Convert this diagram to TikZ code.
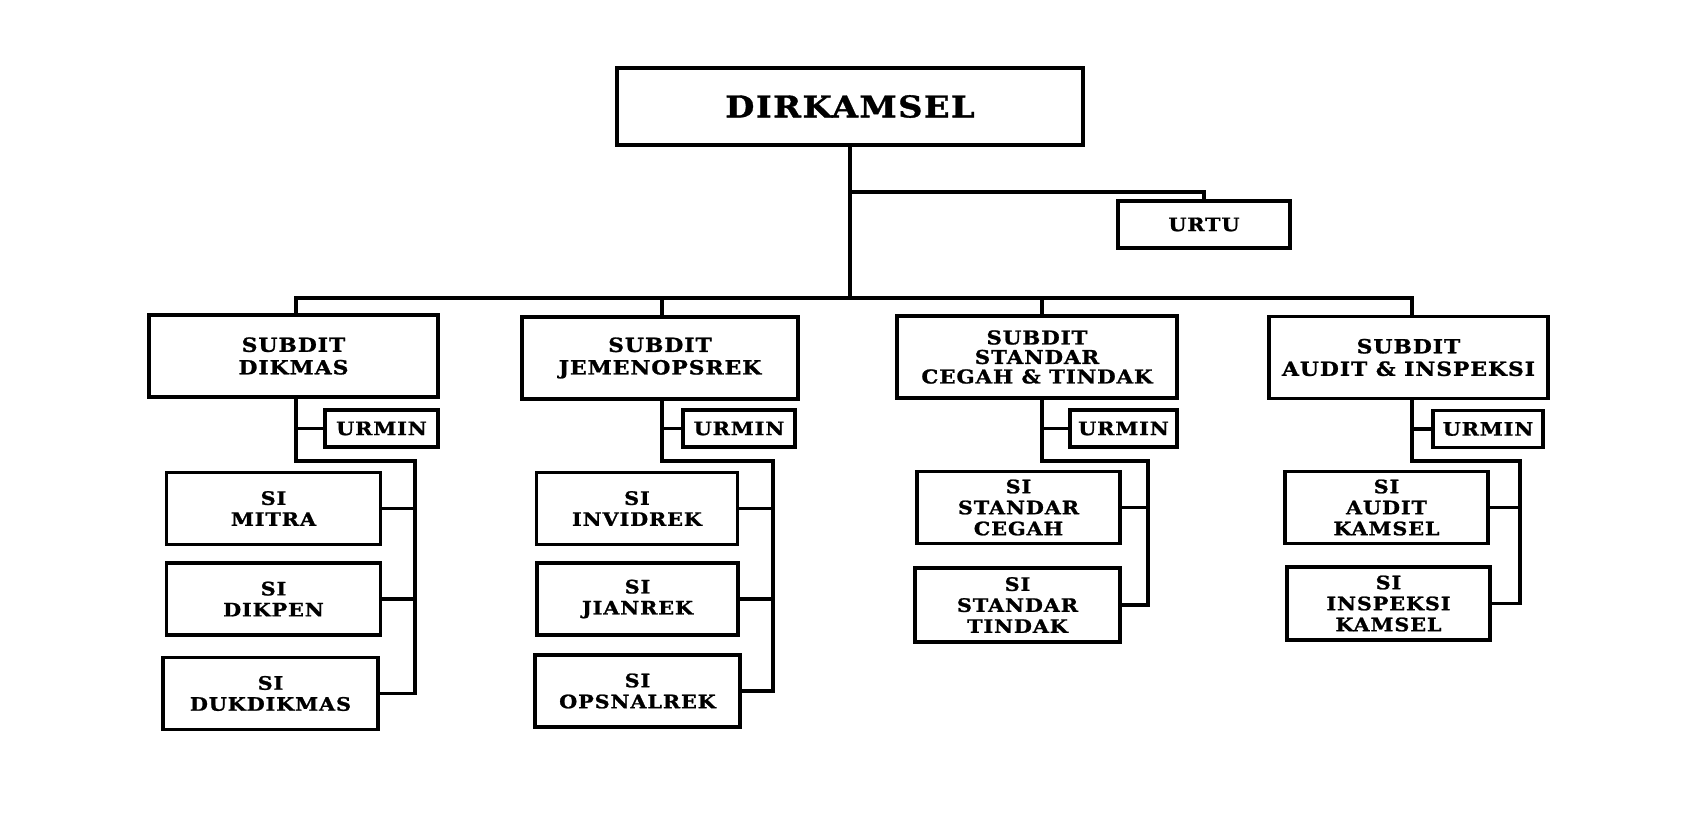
\documentclass[tikz,border=0pt]{standalone}
\usepackage{fontspec}
\newfontfamily\orgfont{DejaVu Serif}[FakeStretch=1.12,LetterSpace=5,BoldFeatures={FakeBold=1.2}]
\begin{document}
\begin{tikzpicture}[x=1pt,y=-1pt,
  conn/.style={line width=3.5pt, line cap=rect},
  box/.style={draw, line width=3.5pt, inner sep=0pt, align=center,
    font=\orgfont\bfseries\fontsize{18.5}{21}\selectfont},
  urmin/.style={box, minimum width=110pt, minimum height=37pt},
  sibox/.style={box, minimum height=72pt},
  subdit/.style={box, minimum height=82pt, font=\orgfont\bfseries\fontsize{19.5}{22.5}\selectfont}]
\useasboundingbox (0,0) rectangle (1701,834);
\fill[white] (0,0) rectangle (1701,834);
% top
\node[box, minimum width=466pt, minimum height=77pt, font=\orgfont\bfseries\fontsize{30}{34}\selectfont] (dir) at (850,106.5) {DIRKAMSEL};
\node[box, minimum width=172pt, minimum height=47pt] (urtu) at (1204,224.5) {URTU};
% subdits
\node[subdit, minimum width=289pt] (s1) at (293.5,356) {SUBDIT\\DIKMAS};
\node[subdit, minimum width=276pt] (s2) at (660,358) {SUBDIT\\JEMENOPSREK};
\node[subdit, minimum width=280pt, font=\orgfont\bfseries\fontsize{19}{19.5}\selectfont] (s3) at (1037,357) {SUBDIT\\STANDAR\\CEGAH \& TINDAK};
\node[subdit, minimum width=279pt] (s4) at (1408.5,357.5) {SUBDIT\\AUDIT \& INSPEKSI};
% urmin
\node[urmin, minimum width=113pt] (u1) at (381.5,428.5) {URMIN};
\node[urmin, minimum width=112pt] (u2) at (739,428.5) {URMIN};
\node[urmin, minimum width=107pt] (u3) at (1123.5,428.5) {URMIN};
\node[urmin] (u4) at (1488,429) {URMIN};
% SI boxes
\node[sibox, minimum width=214pt] (a1) at (273.5,508.5) {SI\\MITRA};
\node[sibox, minimum width=214pt] (a2) at (273.5,599) {SI\\DIKPEN};
\node[sibox, minimum width=215pt] (a3) at (270.5,693.5) {SI\\DUKDIKMAS};
\node[sibox, minimum width=201pt] (b1) at (637,508.5) {SI\\INVIDREK};
\node[sibox, minimum width=201pt] (b2) at (637.5,599) {SI\\JIANREK};
\node[sibox, minimum width=205pt] (b3) at (637.5,691) {SI\\OPSNALREK};
\node[sibox, minimum width=203pt] (c1) at (1018.5,507.5) {SI\\STANDAR\\CEGAH};
\node[sibox, minimum width=205pt, minimum height=74pt] (c2) at (1017.5,605) {SI\\STANDAR\\TINDAK};
\node[sibox, minimum width=203pt] (e1) at (1386.5,507.5) {SI\\AUDIT\\KAMSEL};
\node[sibox, minimum width=203pt, minimum height=73pt] (e2) at (1388.5,603.5) {SI\\INSPEKSI\\KAMSEL};
% coordinates
\coordinate (bus) at (850,298);
\coordinate (ub) at (850,192);
\coordinate (d1) at (296,298);
\coordinate (d2) at (662,298);
\coordinate (d3) at (1042,298);
\coordinate (d4) at (1412,298);
\coordinate (k1) at (296,461);
\coordinate (k2) at (662,461);
\coordinate (k3) at (1042,461);
\coordinate (k4) at (1412,461);
\coordinate (r1) at (415,461);
\coordinate (r2) at (773,461);
\coordinate (r3) at (1148,461);
\coordinate (r4) at (1520,461);
% top connectors
\draw[conn] (dir.south) -- (bus);
\draw[conn] (ub) -| (urtu.north);
\draw[conn] (d1) -- (d4);
\draw[conn] (d1) -- (d1 |- s1.north);
\draw[conn] (d2) -- (d2 |- s2.north);
\draw[conn] (d3) -- (d3 |- s3.north);
\draw[conn] (d4) -- (d4 |- s4.north);
% group 1
\draw[conn] (d1 |- s1.south) -- (k1) -- (r1) -- (r1 |- a3.east) -- (a3.east);
\draw[conn] (k1 |- u1.west) -- (u1.west);
\draw[conn] (a1.east) -- (a1.east -| r1);
\draw[conn] (a2.east) -- (a2.east -| r1);
% group 2
\draw[conn] (d2 |- s2.south) -- (k2) -- (r2) -- (r2 |- b3.east) -- (b3.east);
\draw[conn] (k2 |- u2.west) -- (u2.west);
\draw[conn] (b1.east) -- (b1.east -| r2);
\draw[conn] (b2.east) -- (b2.east -| r2);
% group 3
\draw[conn] (d3 |- s3.south) -- (k3) -- (r3) -- (r3 |- c2.east) -- (c2.east);
\draw[conn] (k3 |- u3.west) -- (u3.west);
\draw[conn] (c1.east) -- (c1.east -| r3);
% group 4
\draw[conn] (d4 |- s4.south) -- (k4) -- (r4) -- (r4 |- e2.east) -- (e2.east);
\draw[conn] (k4 |- u4.west) -- (u4.west);
\draw[conn] (e1.east) -- (e1.east -| r4);
\end{tikzpicture}
\end{document}
